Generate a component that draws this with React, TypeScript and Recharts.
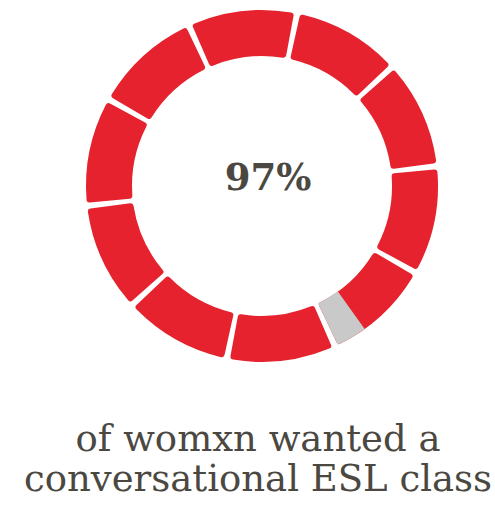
import React from 'react';
import { PieChart, Pie, Cell, Label } from 'recharts';

// ---- data ----
const PERCENT_VALUE = 97; // share that wanted the class
const REMAINDER_VALUE = 3; // share that did not
const SEGMENT_VALUES = [10, 10, 10, 10, 10, 10, 10, 10, 10, 10]; // ring split in 10 blocks of 10%
const CENTER_LABEL = '97%';
const CAPTION_LINES = ['of womxn wanted a', 'conversational ESL class'];

// ---- style ----
const RED = '#e5222d';
const GREY = '#c9c9c9';
const TEXT = '#4b4842';
const PAD = 2; // degrees between blocks
const START_CW = 156.5; // clockwise degrees from 12 o'clock where the ring starts

const total = PERCENT_VALUE + REMAINDER_VALUE;
const n = SEGMENT_VALUES.length;
const blockAngle = 360 / n - PAD;
const startAngle = 90 - START_CW;
const endAngle = startAngle - 360;

// grey part: the tail of the block holding the remainder
const blockSize = total / n;
const lastIdx = Math.floor(PERCENT_VALUE / blockSize);
const fillFrac = (PERCENT_VALUE - lastIdx * blockSize) / blockSize;
const greyStartCW = START_CW + lastIdx * (360 / n) + fillFrac * blockAngle;
const greyEndCW = START_CW + lastIdx * (360 / n) + blockAngle;

const segmentData = SEGMENT_VALUES.map((v, i) => ({ name: `block${i + 1}`, value: v }));
const greyData = [{ name: 'no', value: REMAINDER_VALUE }];

const CX = 262;
const CY = 186;

export default function App() {
  return (
    <div style={{ position: 'absolute', left: 0, top: 0, width: 495, height: 506, background: '#ffffff' }}>
      <PieChart width={495} height={506} margin={{ top: 0, right: 0, bottom: 0, left: 0 }}>
        <Pie
          data={segmentData}
          dataKey="value"
          cx={CX}
          cy={CY}
          innerRadius={130}
          outerRadius={176}
          startAngle={startAngle}
          endAngle={endAngle}
          paddingAngle={PAD}
          cornerRadius={3}
          stroke="none"
          isAnimationActive={false}
        >
          {segmentData.map((d) => (
            <Cell key={d.name} fill={RED} />
          ))}
          <Label
            position="center"
            content={(props: any) => {
              const vb = props.viewBox || {};
              return (
                <text
                  x={(vb.cx ?? CX) + 6}
                  y={(vb.cy ?? CY) + 4}
                  textAnchor="middle"
                  fill={TEXT}
                  fontFamily="'DejaVu Serif', serif"
                  fontWeight="bold"
                  fontSize={37}
                >
                  {CENTER_LABEL}
                </text>
              );
            }}
          />
        </Pie>
        <Pie
          data={greyData}
          dataKey="value"
          cx={CX}
          cy={CY}
          innerRadius={130}
          outerRadius={176}
          startAngle={90 - greyStartCW}
          endAngle={90 - greyEndCW}
          cornerRadius={0}
          stroke="none"
          isAnimationActive={false}
        >
          <Cell fill={GREY} />
        </Pie>
      </PieChart>
      <div
        style={{
          position: 'absolute',
          left: 0,
          top: 419,
          width: 516,
          textAlign: 'center',
          fontFamily: "'DejaVu Serif', serif",
          fontSize: 37,
          lineHeight: '40px',
          color: TEXT,
          whiteSpace: 'nowrap',
        }}
      >
        {CAPTION_LINES.map((l) => (
          <div key={l}>{l}</div>
        ))}
      </div>
    </div>
  );
}
